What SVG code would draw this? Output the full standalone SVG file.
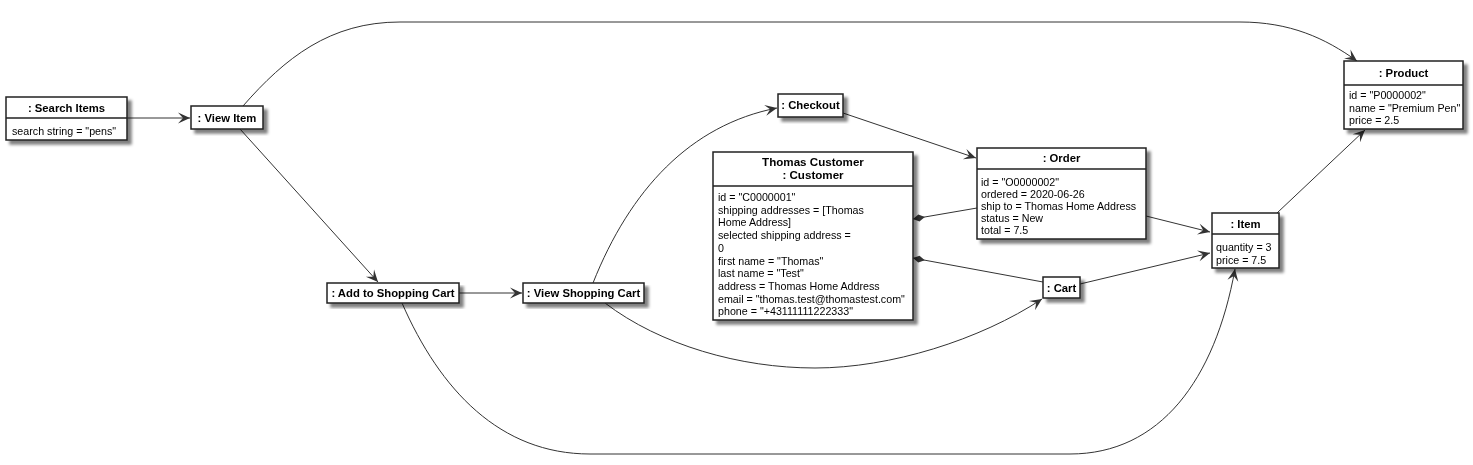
<svg xmlns="http://www.w3.org/2000/svg" width="1473" height="465" viewBox="0 0 1473 465">
<defs>
<filter id="sh" x="-10%" y="-10%" width="130%" height="140%">
<feGaussianBlur in="SourceAlpha" stdDeviation="1.8"/>
<feOffset dx="4" dy="4" result="b"/>
<feComponentTransfer><feFuncA type="linear" slope="0.5"/></feComponentTransfer>
<feMerge><feMergeNode/><feMergeNode in="SourceGraphic"/></feMerge>
</filter>
<marker id="arr" markerWidth="14" markerHeight="12" refX="0" refY="0" viewBox="-13 -6 14 12" orient="auto" markerUnits="userSpaceOnUse">
<path d="M0,0 L-12,-5.5 L-7,0 L-12,5.5 Z" fill="#333"/>
</marker>
<marker id="dia" markerWidth="14" markerHeight="8" refX="0" refY="0" viewBox="-1 -4 14 8" orient="auto" markerUnits="userSpaceOnUse">
<path d="M0,0 L6,-3.5 L12,0 L6,3.5 Z" fill="#333"/>
</marker>
</defs>
<style>
.box{fill:#fff;stroke:#222;stroke-width:1.5}
.sep{stroke:#222;stroke-width:1.5}
.t{font-family:"Liberation Sans",Arial,sans-serif;font-size:11.3px;font-weight:bold;fill:#000;text-anchor:middle}
.a{font-family:"Liberation Sans",Arial,sans-serif;font-size:10.7px;fill:#000}
.c{fill:none;stroke:#333;stroke-width:1}
</style>
<rect width="1473" height="465" fill="#fff"/>

<g id="connectors">
<path class="c" d="M127,118 L190,118" marker-end="url(#arr)"/>
<path class="c" d="M243,106 C285,58 330,22 400,22 L1240,22 C1290,22 1325,38 1357,61" marker-end="url(#arr)"/>
<path class="c" d="M240,129 L378,282" marker-end="url(#arr)"/>
<path class="c" d="M459,293 L522,293" marker-end="url(#arr)"/>
<path class="c" d="M593,283 C630,190 690,125 777,108" marker-end="url(#arr)"/>
<path class="c" d="M605,303 C660,345 740,368 815,368 C890,368 980,340 1042,299" marker-end="url(#arr)"/>
<path class="c" d="M402,303 C440,390 500,454 590,454 L1070,454 C1160,454 1215,380 1235,269" marker-end="url(#arr)"/>
<path class="c" d="M843,113 L976,158" marker-end="url(#arr)"/>
<path class="c" d="M913,219 L977,208" marker-start="url(#dia)"/>
<path class="c" d="M913,258 L1043,282" marker-start="url(#dia)"/>
<path class="c" d="M1146,216 L1210,232" marker-end="url(#arr)"/>
<path class="c" d="M1080,284 L1210,253" marker-end="url(#arr)"/>
<path class="c" d="M1277,213 L1365,130" marker-end="url(#arr)"/>
</g>

<g id="search-items" filter="url(#sh)">
<rect class="box" x="6" y="97" width="121" height="43"/>
<line class="sep" x1="6" y1="118" x2="127" y2="118"/>
<text class="t" x="66.5" y="112">: Search Items</text>
<text class="a" x="12" y="135">search string = "pens"</text>
</g>

<g id="view-item" filter="url(#sh)">
<rect class="box" x="191" y="106" width="72" height="23"/>
<text class="t" x="227" y="122">: View Item</text>
</g>

<g id="add-to-cart" filter="url(#sh)">
<rect class="box" x="327" y="283" width="132" height="20"/>
<text class="t" x="393" y="297">: Add to Shopping Cart</text>
</g>

<g id="view-shopping-cart" filter="url(#sh)">
<rect class="box" x="523" y="283" width="121" height="20"/>
<text class="t" x="583.5" y="297">: View Shopping Cart</text>
</g>

<g id="checkout" filter="url(#sh)">
<rect class="box" x="778" y="94" width="65" height="23"/>
<text class="t" x="810.5" y="109">: Checkout</text>
</g>

<g id="customer" filter="url(#sh)">
<rect class="box" x="713" y="152" width="200" height="168"/>
<line class="sep" x1="713" y1="186" x2="913" y2="186"/>
<text class="t" x="813" y="166" style="font-size:11.6px">Thomas Customer</text>
<text class="t" x="813" y="179" style="font-size:11.6px">: Customer</text>
<text class="a" x="718" y="201">id = "C0000001"</text>
<text class="a" x="718" y="213.7">shipping addresses = [Thomas</text>
<text class="a" x="718" y="226.4">Home Address]</text>
<text class="a" x="718" y="239.1">selected shipping address =</text>
<text class="a" x="718" y="251.8">0</text>
<text class="a" x="718" y="264.5">first name = "Thomas"</text>
<text class="a" x="718" y="277.2">last name = "Test"</text>
<text class="a" x="718" y="289.9">address = Thomas Home Address</text>
<text class="a" x="718" y="302.6">email = "thomas.test@thomastest.com"</text>
<text class="a" x="718" y="315.3">phone = "+43111111222333"</text>
</g>

<g id="order" filter="url(#sh)">
<rect class="box" x="977" y="148" width="169" height="91"/>
<line class="sep" x1="977" y1="169" x2="1146" y2="169"/>
<text class="t" x="1061.5" y="162">: Order</text>
<text class="a" x="981" y="186">id = "O0000002"</text>
<text class="a" x="981" y="198">ordered = 2020-06-26</text>
<text class="a" x="981" y="210">ship to = Thomas Home Address</text>
<text class="a" x="981" y="222">status = New</text>
<text class="a" x="981" y="234">total = 7.5</text>
</g>

<g id="cart" filter="url(#sh)">
<rect class="box" x="1043" y="277" width="37" height="21"/>
<text class="t" x="1061.5" y="292">: Cart</text>
</g>

<g id="item" filter="url(#sh)">
<rect class="box" x="1212" y="213" width="67" height="55"/>
<line class="sep" x1="1212" y1="234" x2="1279" y2="234"/>
<text class="t" x="1245.5" y="228">: Item</text>
<text class="a" x="1216" y="251">quantity = 3</text>
<text class="a" x="1216" y="264">price = 7.5</text>
</g>

<g id="product" filter="url(#sh)">
<rect class="box" x="1344" y="61" width="119" height="68"/>
<line class="sep" x1="1344" y1="85" x2="1463" y2="85"/>
<text class="t" x="1403.5" y="77">: Product</text>
<text class="a" x="1349" y="99">id = "P0000002"</text>
<text class="a" x="1349" y="111.5">name = "Premium Pen"</text>
<text class="a" x="1349" y="124">price = 2.5</text>
</g>
</svg>
